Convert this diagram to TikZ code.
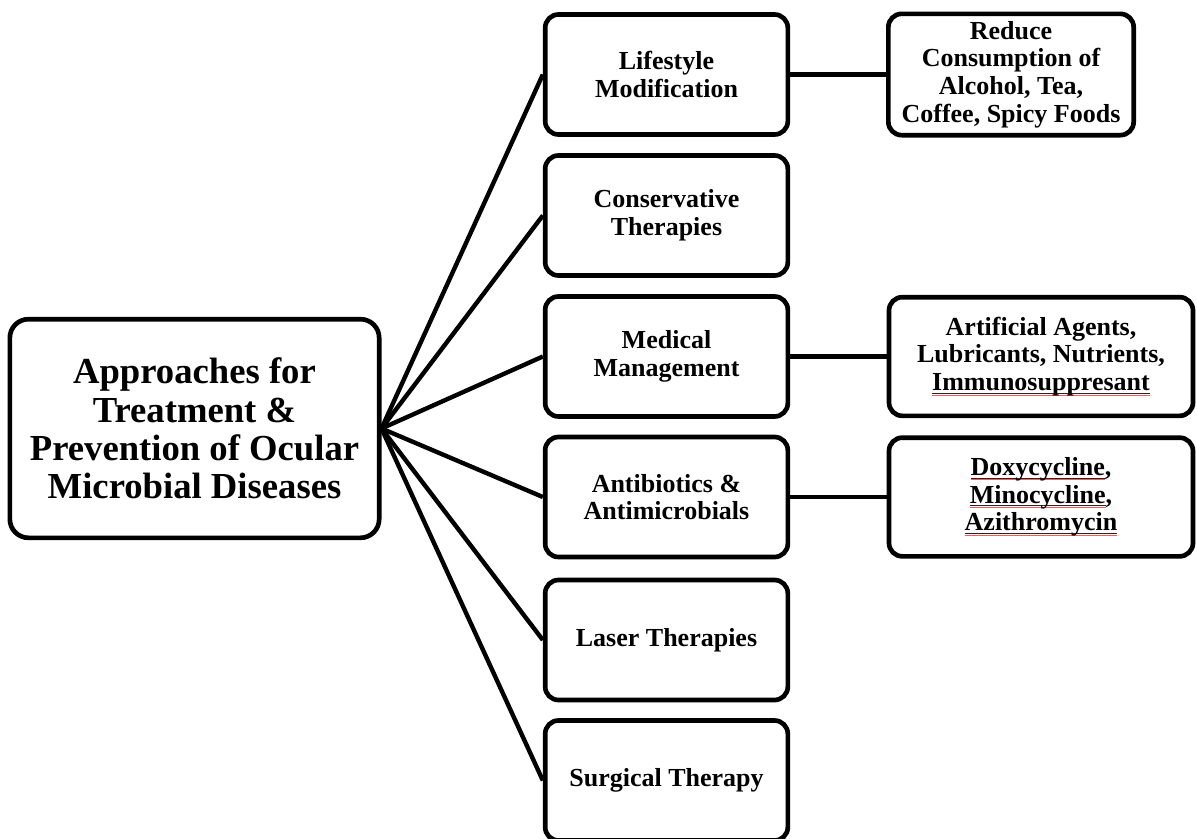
\documentclass[tikz,border=0pt]{standalone}
\usepackage{fontspec}
\setmainfont{Liberation Serif}
\usepackage{xcolor}
\newlength\sqw
\newcommand\squig[1]{\settowidth\sqw{#1}\rlap{\textcolor{red!65}{\rule[-3.4pt]{\sqw}{0.45pt}}}\rlap{\textcolor{black!85}{\rule[-2.3pt]{\sqw}{0.7pt}}}#1}
\tikzset{
  box/.style={draw=black, line width=3.5pt, rounded corners=10pt, fill=white,
    align=center, inner sep=2pt, font=\bfseries\fontsize{19.5}{20.8}\selectfont},
  mid/.style={box, minimum width=182pt, minimum height=90pt},
  side/.style={box},
  mainbox/.style={box, rounded corners=14pt, minimum width=277pt, minimum height=164pt,
    font=\bfseries\fontsize{27.5}{28.8}\selectfont},
  link/.style={line width=3.3pt}
}
\begin{document}
\begin{tikzpicture}[x=0.75pt,y=-0.75pt]
\useasboundingbox (0,0) rectangle (1197,839);
\node[mainbox] (main) at (194.5,428.5) {Approaches for\\Treatment \&\\Prevention of Ocular\\Microbial Diseases};
\node[mid] (life) at (666.5,74.5) {Lifestyle\\Modification};
\node[mid] (cons) at (666.5,215.5) {Conservative\\Therapies};
\node[mid] (med) at (666.5,356.5) {Medical\\Management};
\node[mid] (anti) at (666.5,497) {Antibiotics \&\\Antimicrobials};
\node[mid] (laser) at (666.5,640) {Laser Therapies};
\node[mid] (surg) at (666.5,780.5) {Surgical Therapy};
\node[side, minimum width=184pt, minimum height=91pt] (red) at (1011,74.5) {Reduce\\Consumption of\\Alcohol, Tea,\\Coffee, Spicy Foods};
\node[side, minimum width=228pt, minimum height=89pt] (art) at (1041,356.5) {Artificial Agents,\\Lubricants, Nutrients,\\\squig{Immunosuppresant}};
\node[side, minimum width=228pt, minimum height=89pt] (doxy) at (1041,497) {\squig{Doxycycline},\\\squig{Minocycline},\\\squig{Azithromycin}};
\foreach \n in {life,cons,med,anti,laser,surg}{
  \draw[link] (main.east) -- (\n.west);
}
\draw[link] (life.east) -- (red.west);
\draw[link] (med.east) -- (art.west);
\draw[link] (anti.east) -- (doxy.west);
\end{tikzpicture}
\end{document}
